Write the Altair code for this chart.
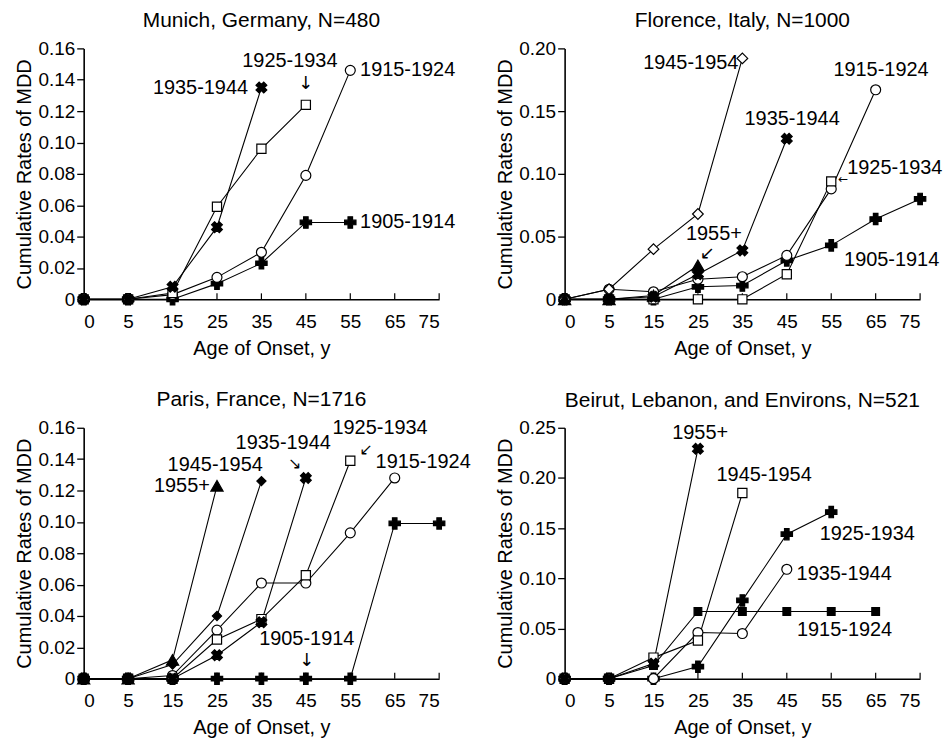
import altair as alt
import pandas as pd

AGES = [0, 5, 15, 25, 35, 45, 55, 65, 75]
Y_TITLE = "Cumulative Rates of MDD"
X_TITLE = "Age of Onset, y"

# ---- Munich, Germany, N=480 (values by age 0,5,15,...)
MUN_1905_1914 = [0, 0, 0, 0.010, 0.023, 0.049, 0.049]
MUN_1915_1924 = [0, 0, 0.003, 0.014, 0.030, 0.079, 0.146]
MUN_1925_1934 = [0, 0, 0.004, 0.059, 0.096, 0.124]
MUN_1935_1944 = [0, 0, 0.008, 0.046, 0.135]

# ---- Florence, Italy, N=1000
FLO_1905_1914 = [0, 0, 0, 0.010, 0.011, 0.031, 0.043, 0.064, 0.080]
FLO_1915_1924 = [0, 0.008, 0.006, 0.016, 0.018, 0.035, 0.088, 0.167]
FLO_1925_1934 = [0, 0, 0, 0, 0, 0.020, 0.094]
FLO_1935_1944 = [0, 0, 0.002, 0.020, 0.039, 0.128]
FLO_1945_1954 = [0, 0.008, 0.040, 0.068, 0.192]
FLO_1955_PLUS = [0, 0, 0.003, 0.027]

# ---- Paris, France, N=1716
PAR_1905_1914 = [0, 0, 0, 0, 0, 0, 0, 0.099, 0.099]
PAR_1915_1924 = [0, 0, 0.002, 0.031, 0.061, 0.061, 0.093, 0.128]
PAR_1925_1934 = [0, 0, 0, 0.025, 0.038, 0.066, 0.139]
PAR_1935_1944 = [0, 0, 0, 0.015, 0.036, 0.128]
PAR_1945_1954 = [0, 0, 0.009, 0.040, 0.126]
PAR_1955_PLUS = [0, 0, 0.012, 0.123]

# ---- Beirut, Lebanon, and Environs, N=521
BEI_1915_1924 = [0, 0, 0.013, 0.067, 0.067, 0.067, 0.067, 0.067]
BEI_1925_1934 = [0, 0, 0, 0.012, 0.078, 0.144, 0.166]
BEI_1935_1944 = [0, 0, 0, 0.046, 0.045, 0.109]
BEI_1945_1954 = [0, 0, 0.021, 0.038, 0.185]
BEI_1955_PLUS = [0, 0, 0.015, 0.229]

# ---- panel titles / axis tick values
TITLES = ["Munich, Germany, N=480", "Florence, Italy, N=1000",
          "Paris, France, N=1716", "Beirut, Lebanon, and Environs, N=521"]
Y_TICKS_016 = [0, 0.02, 0.04, 0.06, 0.08, 0.10, 0.12, 0.14, 0.16]
Y_TICKS_020 = [0, 0.05, 0.10, 0.15, 0.20]
Y_TICKS_025 = [0, 0.05, 0.10, 0.15, 0.20, 0.25]

# ---- cohort labels (text, age position, rate position, alignment)
MUN_LABELS = [("1935-1944", 32.0, 0.135, "right"), ("1925-1934", 41.4, 0.152, "center"),
              ("1915-1924", 57.2, 0.146, "left"), ("1905-1914", 57.2, 0.049, "left")]
MUN_ARROWS = [("↓", 45.0, 0.137, 18)]
FLO_LABELS = [("1945-1954", 34.1, 0.188, "right"), ("1935-1944", 46.2, 0.144, "center"),
              ("1915-1924", 66.2, 0.183, "center"), ("1925-1934", 58.6, 0.105, "left"),
              ("1905-1914", 68.6, 0.031, "center"), ("1955+", 28.6, 0.052, "center")]
FLO_ARROWS = [("←", 57.7, 0.096, 12), ("↙", 27.1, 0.036, 18)]
PAR_LABELS = [("1955+", 23.4, 0.123, "right"), ("1945-1954", 24.6, 0.136, "center"),
              ("1935-1944", 39.9, 0.150, "center"), ("1925-1934", 61.7, 0.160, "center"),
              ("1915-1924", 71.4, 0.138, "center"), ("1905-1914", 45.2, 0.025, "center")]
PAR_ARROWS = [("↘", 42.5, 0.137, 16), ("↙", 58.6, 0.146, 16), ("↓", 45.2, 0.011, 18)]
BEI_LABELS = [("1955+", 25.5, 0.245, "center"), ("1945-1954", 39.9, 0.2025, "center"),
              ("1925-1934", 63.1, 0.144, "center"), ("1935-1944", 47.2, 0.1046, "left"),
              ("1915-1924", 58.0, 0.048, "center")]
BEI_ARROWS = []

# ---- marker styles (kept apart from the values)
MARKERS = {
    "open_circle": dict(shape="circle", fill="white", angle=0, size=100),
    "open_square": dict(shape="square", fill="white", angle=0, size=85),
    "open_diamond": dict(shape="diamond", fill="white", angle=0, size=115),
    "plus": dict(shape="cross", fill="black", angle=0, size=130),
    "x": dict(shape="cross", fill="black", angle=45, size=120),
    "triangle": dict(shape="triangle-up", fill="black", angle=0, size=150),
    "filled_diamond": dict(shape="diamond", fill="black", angle=0, size=85),
    "filled_square": dict(shape="square", fill="black", angle=0, size=60),
}

FONT = "Liberation Sans"
W, H = 357, 252


def build_panel(title, series, ymax, yticks, labels, arrows):
    rows = []
    for name, (vals, marker) in series.items():
        st = MARKERS[marker]
        for age, v in zip(AGES, vals):
            rows.append(dict(series=name, age=age, rate=v, shape=st["shape"],
                             fill=st["fill"], angle=st["angle"], size=st["size"]))
    df = pd.DataFrame(rows)

    xs = alt.Scale(domain=[0, 5, 75], range=[0, W / 8, W], nice=False, zero=False)
    ys = alt.Scale(domain=[0, ymax], nice=False, zero=True)
    x_axis = alt.Axis(values=AGES, format="d", title=X_TITLE, ticks=False,
                      labelPadding=13, titlePadding=7, grid=False)
    y_axis = alt.Axis(values=yticks, title=Y_TITLE, tickSize=7, labelPadding=2,
                      titlePadding=3, grid=False,
                      labelExpr="datum.value == 0 ? '0' : format(datum.value, '.2f')")
    X = alt.X("age:Q", scale=xs, axis=x_axis)
    Y = alt.Y("rate:Q", scale=ys, axis=y_axis)

    base = alt.Chart(df)
    lines = base.mark_line(color="black", strokeWidth=1.1).encode(
        x=X, y=Y, detail="series:N", order="age:Q")
    points = base.mark_point(filled=True, stroke="black", strokeWidth=1.2, opacity=1).encode(
        x=X, y=Y,
        shape=alt.Shape("shape:N", scale=None),
        fill=alt.Fill("fill:N", scale=None),
        angle=alt.Angle("angle:Q", scale=None),
        size=alt.Size("size:Q", scale=None),
    )
    ticks = alt.Chart(pd.DataFrame({"age": AGES})).mark_rule(
        color="black", strokeWidth=1.2).encode(
        x=X, y=alt.value(H), y2=alt.value(H - 6))

    layers = [lines, ticks, points]
    lab = pd.DataFrame(labels, columns=["text", "age", "rate", "align"])
    for al in ["left", "center", "right"]:
        sub = lab[lab["align"] == al]
        if len(sub):
            layers.append(alt.Chart(sub).mark_text(
                align=al, baseline="middle", font=FONT, fontSize=20, color="black").encode(
                x=X, y=Y, text="text:N"))
    if arrows:
        arr = pd.DataFrame(arrows, columns=["text", "age", "rate", "fs"])
        for fs in sorted(arr["fs"].unique()):
            layers.append(alt.Chart(arr[arr["fs"] == fs]).mark_text(
                align="center", baseline="middle", font="DejaVu Sans", fontSize=int(fs),
                color="black").encode(x=X, y=Y, text="text:N"))

    return alt.layer(*layers).properties(
        width=W, height=H,
        title=alt.TitleParams(title, fontSize=21, font=FONT, fontWeight="normal",
                              anchor="middle", offset=8, color="black"))


munich = build_panel(TITLES[0], {
    "1905-1914": (MUN_1905_1914, "plus"),
    "1915-1924": (MUN_1915_1924, "open_circle"),
    "1925-1934": (MUN_1925_1934, "open_square"),
    "1935-1944": (MUN_1935_1944, "x"),
}, 0.16, Y_TICKS_016, MUN_LABELS, MUN_ARROWS)

florence = build_panel(TITLES[1], {
    "1905-1914": (FLO_1905_1914, "plus"),
    "1915-1924": (FLO_1915_1924, "open_circle"),
    "1925-1934": (FLO_1925_1934, "open_square"),
    "1935-1944": (FLO_1935_1944, "x"),
    "1945-1954": (FLO_1945_1954, "open_diamond"),
    "1955+": (FLO_1955_PLUS, "triangle"),
}, 0.20, Y_TICKS_020, FLO_LABELS, FLO_ARROWS)

paris = build_panel(TITLES[2], {
    "1905-1914": (PAR_1905_1914, "plus"),
    "1915-1924": (PAR_1915_1924, "open_circle"),
    "1925-1934": (PAR_1925_1934, "open_square"),
    "1935-1944": (PAR_1935_1944, "x"),
    "1945-1954": (PAR_1945_1954, "filled_diamond"),
    "1955+": (PAR_1955_PLUS, "triangle"),
}, 0.16, Y_TICKS_016, PAR_LABELS, PAR_ARROWS)

beirut = build_panel(TITLES[3], {
    "1915-1924": (BEI_1915_1924, "filled_square"),
    "1925-1934": (BEI_1925_1934, "plus"),
    "1935-1944": (BEI_1935_1944, "open_circle"),
    "1945-1954": (BEI_1945_1954, "open_square"),
    "1955+": (BEI_1955_PLUS, "x"),
}, 0.25, Y_TICKS_025, BEI_LABELS, BEI_ARROWS)

chart = alt.concat(
    munich, florence, paris, beirut, columns=2,
    spacing={"row": 129, "column": 126}, bounds="flush",
).properties(
    padding={"left": 7, "top": 1, "right": 0, "bottom": 0},
    background="white",
).configure_view(stroke=None).configure_axis(
    domainColor="black", domainWidth=1.6, tickColor="black", tickWidth=1.3,
    labelColor="black", titleColor="black", labelFont=FONT, titleFont=FONT,
    labelFontSize=19, titleFontSize=20, titleFontWeight="normal",
)

chart.save("out.html", embed_options={"renderer": "svg", "actions": False})
